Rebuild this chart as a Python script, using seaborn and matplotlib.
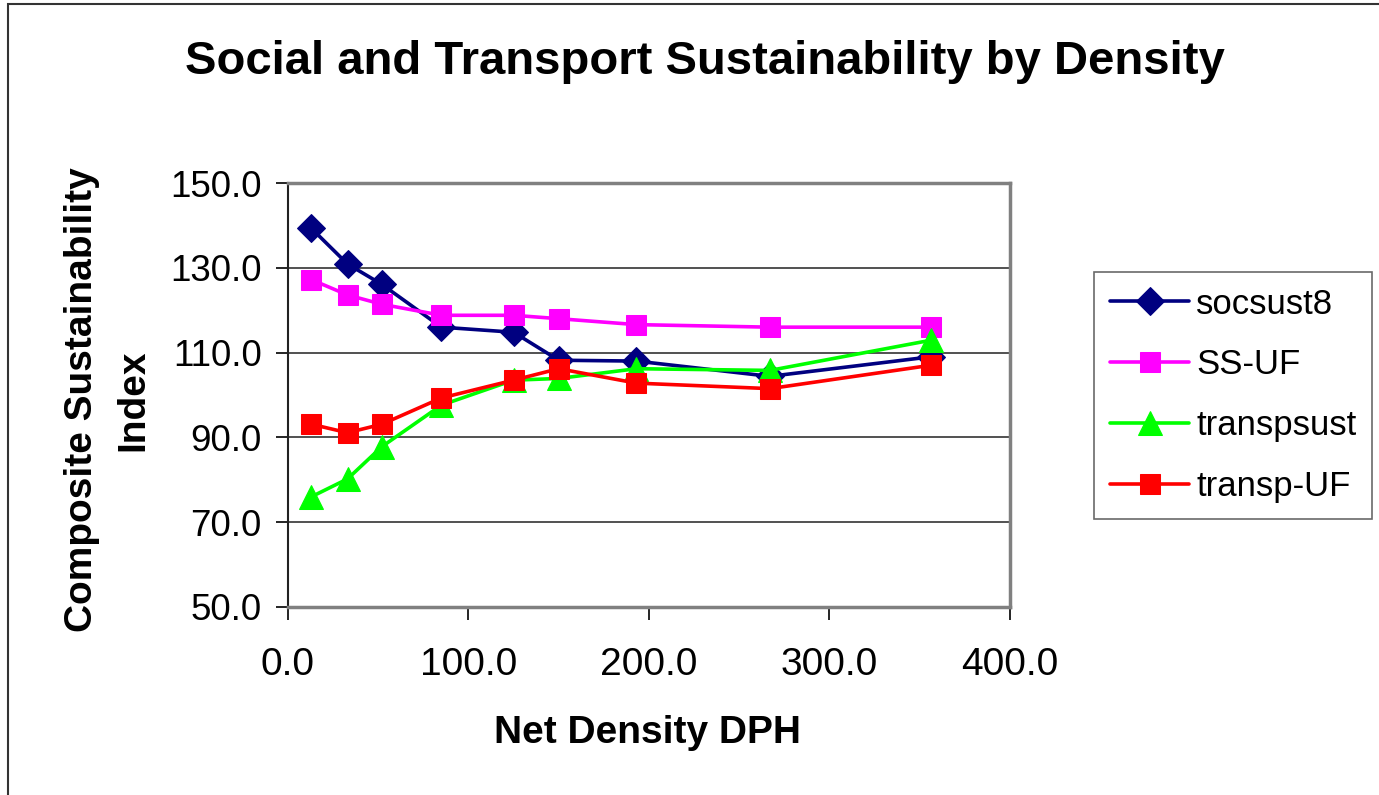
import numpy as np
import pandas as pd
import matplotlib
matplotlib.use("Agg")
import matplotlib.pyplot as plt
import seaborn as sns
from matplotlib.patches import Rectangle

# values
density = [13, 33, 52, 85, 125, 150, 193, 267, 356]
socsust8 = [139.3, 130.9, 126.1, 116.0, 114.8, 108.2, 108.0, 104.4, 109.0]
ss_uf = [127.2, 123.6, 121.4, 118.8, 118.8, 118.0, 116.6, 116.0, 116.0]
transpsust = [76.0, 80.2, 87.8, 97.6, 103.5, 103.9, 106.2, 105.8, 112.9]
transp_uf = [93.1, 91.1, 93.1, 99.3, 103.5, 106.2, 102.8, 101.5, 107.0]

series_names = ["socsust8", "SS-UF", "transpsust", "transp-UF"]
colors = ["#000080", "#FF00FF", "#00FF00", "#FF0000"]
markers = ["D", "s", "^", "s"]
msizes = [14, 14, 17, 14]

df = pd.DataFrame({
    "density": density * 4,
    "value": socsust8 + ss_uf + transpsust + transp_uf,
    "series": np.repeat(series_names, len(density)),
})

sns.set_theme(style="white")
plt.rcParams["font.family"] = ["Liberation Sans", "DejaVu Sans"]
plt.rcParams["text.color"] = "black"

fig = plt.figure(figsize=(13.79, 7.95), dpi=100)
ax = fig.add_axes([0.2088, 0.2365, 0.5236, 0.5333])

for name, col, mk, ms in zip(series_names, colors, markers, msizes):
    sub = df[df["series"] == name]
    sns.lineplot(data=sub, x="density", y="value", ax=ax, color=col,
                 marker=mk, markersize=ms, markeredgecolor=col,
                 linewidth=2.6, label=name, legend=False, zorder=3)

ax.set_xlim(0, 400)
ax.set_ylim(50, 150)
ax.set_xticks([0, 100, 200, 300, 400])
ax.set_yticks([50, 70, 90, 110, 130, 150])
ax.set_xticklabels([f"{v:.1f}" for v in ax.get_xticks()])
ax.set_yticklabels([f"{v:.1f}" for v in ax.get_yticks()])
ax.tick_params(axis="both", direction="out", length=9,
               width=1.2, colors="black", bottom=True, left=True)
ax.tick_params(axis="x", pad=20, labelsize=28)
ax.tick_params(axis="y", pad=10, labelsize=26.5)
ax.yaxis.grid(True, color="#333333", linewidth=1.2)
ax.xaxis.grid(False)
for side in ["top", "right", "bottom"]:
    ax.spines[side].set_color("#808080")
    ax.spines[side].set_linewidth(2.5)
ax.spines["left"].set_color("#222222")
ax.spines["left"].set_linewidth(1.5)
ax.set_xlabel("")
ax.set_ylabel("")

fig.text(648 / 1379, 1 - 733 / 795, "Net Density DPH", fontsize=28,
         fontweight="bold", ha="center", va="center", color="black")
fig.text(108 / 1379, 1 - 400 / 795, "Composite Sustainability\nIndex",
         fontsize=28, fontweight="bold", ha="center", va="center",
         rotation=90, linespacing=1.55, color="black")

fig.text(0.511, 0.922, "Social and Transport Sustainability by Density",
         fontsize=34, fontweight="bold", ha="center", va="center",
         color="black")

handles = ax.get_lines()[:4]
leg = fig.legend(handles=handles, labels=series_names, loc="upper left",
                 bbox_to_anchor=(1094 / 1379, 1 - 272 / 795), fontsize=25,
                 frameon=True, fancybox=False, edgecolor="#444444",
                 handlelength=2.3, labelspacing=0.8, borderpad=0.45,
                 handletextpad=0.2, borderaxespad=0)
leg.get_frame().set_linewidth(1.2)
for t in leg.get_texts():
    t.set_color("black")

# outer chart border
fig.patches.append(Rectangle((8 / 1379, -0.05), 1.1, 1.05 - 4 / 795,
                             transform=fig.transFigure, fill=False,
                             edgecolor="#333333", linewidth=1.5))

fig.savefig("out.png", dpi=100)
